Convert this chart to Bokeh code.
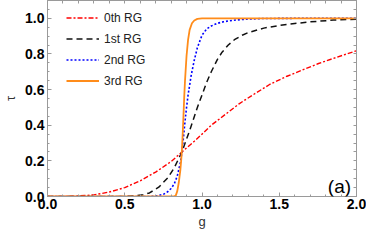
import numpy as np
from bokeh.plotting import figure
from bokeh.models import (Range1d, LinearAxis, SingleIntervalTicker, FixedTicker,
                          PrintfTickFormatter, Legend, LegendItem, Label)
from bokeh.embed import file_html
from bokeh.resources import INLINE

# ---- data ----
g0 = [0.0, 0.1, 0.2, 0.3, 0.4, 0.5, 0.6, 0.7, 0.8, 0.87, 0.95, 1.0, 1.06, 1.15, 1.24,
      1.32, 1.44, 1.55, 1.65, 1.75, 1.85, 2.0]
t0 = [0.0, 0.0003, 0.003, 0.009, 0.025, 0.05, 0.088, 0.137, 0.196, 0.25, 0.31, 0.35, 0.40,
      0.46, 0.52, 0.565, 0.63, 0.675, 0.71, 0.745, 0.775, 0.818]

g1 = [0.0, 0.4, 0.5, 0.56, 0.62, 0.66, 0.72, 0.78, 0.82, 0.87, 0.92, 0.97, 1.0, 1.03, 1.06,
      1.1, 1.13, 1.17, 1.21, 1.26, 1.3, 1.4, 1.5, 1.6, 1.7, 1.85, 2.0]
t1 = [0.0, 0.0, 0.0005, 0.003, 0.01, 0.02, 0.052, 0.106, 0.16, 0.25, 0.37, 0.50, 0.57, 0.64,
      0.70, 0.77, 0.81, 0.85, 0.88, 0.905, 0.92, 0.945, 0.96, 0.971, 0.98, 0.99, 0.995]

g2 = [0.0, 0.65, 0.7, 0.75, 0.78, 0.8, 0.82, 0.84, 0.86, 0.87, 0.88, 0.89, 0.9, 0.91, 0.93,
      0.95, 0.97, 1.0, 1.03, 1.06, 1.1, 1.14, 1.2, 1.3, 1.4, 1.6, 2.0]
t2 = [0.0, 0.0, 0.002, 0.012, 0.028, 0.045, 0.07, 0.115, 0.19, 0.25, 0.33, 0.42, 0.50, 0.57,
      0.68, 0.765, 0.835, 0.905, 0.94, 0.957, 0.972, 0.981, 0.989, 0.996, 0.999, 1.0, 1.0]

g3 = [0.0, 0.8, 0.82, 0.83, 0.84, 0.85, 0.86, 0.865, 0.87, 0.875, 0.88, 0.885, 0.89, 0.9,
      0.91, 0.92, 0.935, 0.95, 0.97, 1.0, 2.0]
t3 = [0.0, 0.0, 0.001, 0.005, 0.03, 0.08, 0.15, 0.2, 0.26, 0.35, 0.45, 0.56, 0.65, 0.79,
      0.88, 0.935, 0.972, 0.988, 0.997, 1.0, 1.0]

series_names = ["0th RG", "1st RG", "2nd RG", "3rd RG"]
x_label = "g"
y_label = "τ"
panel_tag = "(a)"

FONT = "Liberation Sans"
FRAME = "#9a9a9a"

p = figure(width=366, height=231, x_range=Range1d(0, 2), y_range=Range1d(0, 1.1),
           output_backend="svg", toolbar_location=None,
           min_border_left=0, min_border_right=10, min_border_top=0, min_border_bottom=0)
p.xgrid.visible = False
p.ygrid.visible = False
p.outline_line_color = FRAME
p.background_fill_color = "white"
p.border_fill_color = "white"

def style_axis(ax, standoff, label_standoff):
    ax.axis_line_color = FRAME
    ax.major_tick_line_color = FRAME
    ax.minor_tick_line_color = FRAME
    ax.major_tick_in = 4
    ax.major_tick_out = 0
    ax.minor_tick_in = 2
    ax.minor_tick_out = 0
    ax.major_label_text_font = FONT
    ax.major_label_text_font_style = "bold"
    ax.major_label_text_font_size = "14px"
    ax.major_label_text_color = "black"
    ax.major_label_standoff = standoff
    ax.axis_label_text_font = FONT
    ax.axis_label_text_font_style = "normal"
    ax.axis_label_text_font_size = "13px"
    ax.axis_label_text_color = "#333333"
    ax.axis_label_standoff = label_standoff

p.xaxis.ticker = SingleIntervalTicker(interval=0.5, num_minor_ticks=5)
p.yaxis.ticker = SingleIntervalTicker(interval=0.2, num_minor_ticks=4)
p.xaxis.formatter = PrintfTickFormatter(format="%.1f")
p.yaxis.formatter = PrintfTickFormatter(format="%.1f")
p.xaxis.axis_label = x_label
p.yaxis.axis_label = y_label
style_axis(p.xaxis[0], 2, 2)
style_axis(p.yaxis[0], 3, 4)

# mirrored tick marks (no labels) on the top and right frame edges
top_marks = FixedTicker(ticks=[], minor_ticks=list(np.round(np.arange(0, 2.001, 0.1), 2)))
right_marks = FixedTicker(ticks=[], minor_ticks=list(np.round(np.arange(0, 1.101, 0.05), 2)))
for ax_ticker, side in ((top_marks, "above"), (right_marks, "right")):
    ax = LinearAxis(ticker=ax_ticker)
    ax.axis_line_color = FRAME
    ax.minor_tick_line_color = FRAME
    ax.minor_tick_in = 3
    ax.minor_tick_out = 0
    ax.major_tick_out = 0
    ax.major_tick_in = 0
    ax.major_label_standoff = 0
    p.add_layout(ax, side)

r0 = p.line(g0, t0, line_color="#ff0000", line_width=1.4, line_dash="5 2 2 2")
r1 = p.line(g1, t1, line_color="#111111", line_width=1.5, line_dash="6 4")
r2 = p.line(g2, t2, line_color="#0000ff", line_width=1.6, line_dash="2 2")
r3 = p.line(g3, t3, line_color="#ff8c1a", line_width=1.8)

legend = Legend(items=[LegendItem(label=n, renderers=[r]) for n, r in
                       zip(series_names, [r0, r1, r2, r3])],
                location=(19, 106), border_line_color=None, background_fill_alpha=0,
                label_text_font=FONT, label_text_font_size="12px", label_text_color="#222222",
                glyph_width=33, glyph_height=19, label_height=19, spacing=2,
                label_standoff=5, padding=4, margin=0)
p.add_layout(legend, "center")

p.add_layout(Label(x=1.965, y=0.055, text=panel_tag, text_align="right",
                   text_baseline="alphabetic", text_font=FONT, text_font_size="19px",
                   text_color="black"))

open("out.html", "w").write(file_html(p, INLINE))
